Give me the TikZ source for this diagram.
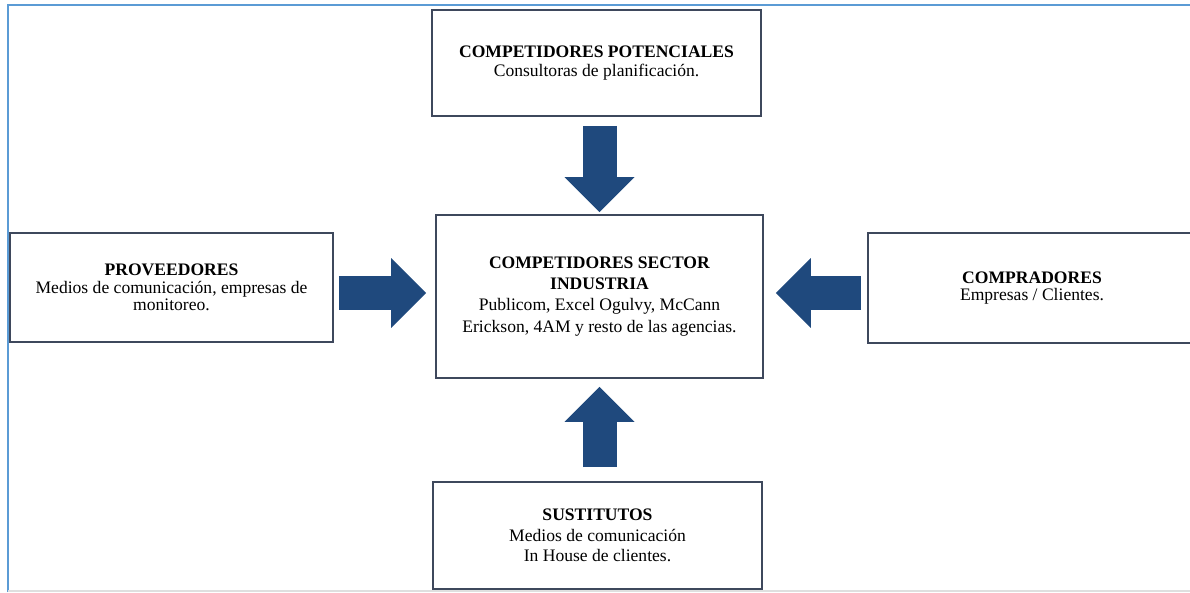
\documentclass[tikz,border=0pt]{standalone}
\usepackage{fontspec}
\setmainfont{Liberation Serif}
\usetikzlibrary{arrows.meta}

\definecolor{flecha}{RGB}{31,73,125}
\definecolor{borde}{RGB}{62,72,92}
\definecolor{marco}{RGB}{91,155,213}

\tikzset{
  caja/.style={draw=borde, line width=1.1pt, fill=white, align=center,
    inner sep=3pt, font=\fontsize{10}{11.5}\selectfont},
  bloque/.style={draw=flecha, line width=0.68cm,
    -{Triangle[line width=0pt, width=1.4cm, length=0.7cm, fill=flecha]}}
}

\begin{document}
\begin{tikzpicture}[x=0.02cm, y=-0.02cm]
    \useasboundingbox (0,0) rectangle (1190,592);

    % Outer frame
    \draw[marco, line width=1.3pt] (8,592) -- (8,5) -- (1190,5);
    \draw[gray!25, line width=0.6pt] (8,591) -- (1190,591);

    % The five forces
    \node[caja, minimum width=6.58cm, minimum height=2.12cm,
      font=\fontsize{10}{10.5}\selectfont] (potenciales) at (596.5,63)
      {\textbf{COMPETIDORES POTENCIALES}\\Consultoras de planificación.};
    \node[caja, minimum width=6.54cm, minimum height=3.26cm,
      font=\fontsize{10}{12}\selectfont] (sector) at (599.5,296.5)
      {\textbf{COMPETIDORES SECTOR}\\\textbf{INDUSTRIA}\\Publicom, Excel Ogulvy, McCann\\Erickson, 4AM y resto de las agencias.};
    \node[caja, minimum width=6.46cm, minimum height=2.18cm,
      font=\fontsize{10}{10}\selectfont] (proveedores) at (171.5,287.5)
      {\textbf{PROVEEDORES}\\Medios de comunicación, empresas de\\monitoreo.};
    \node[caja, minimum width=6.56cm, minimum height=2.2cm,
      font=\fontsize{10}{10}\selectfont] (compradores) at (1032,288)
      {\textbf{COMPRADORES}\\Empresas / Clientes.};
    \node[caja, minimum width=6.58cm, minimum height=2.14cm] (sustitutos) at (597.5,535.5)
      {\textbf{SUSTITUTOS}\\Medios de comunicación\\In House de clientes.};

    % Block arrows towards the industry
    \draw[bloque, shorten <=0.18cm, shorten >=0.04cm]
      (sector.north |- potenciales.south) -- (sector.north);
    \draw[bloque, shorten <=0.28cm, shorten >=0.16cm]
      (sector.south |- sustitutos.north) -- (sector.south);
    \draw[bloque, shorten <=0.1cm, shorten >=0.18cm]
      ([yshift=-0.11cm]proveedores.east) -- ([yshift=-0.11cm]proveedores.east -| sector.west);
    \draw[bloque, shorten <=0.12cm, shorten >=0.24cm]
      ([yshift=-0.1cm]compradores.west) -- ([yshift=-0.1cm]compradores.west -| sector.east);
\end{tikzpicture}
\end{document}
